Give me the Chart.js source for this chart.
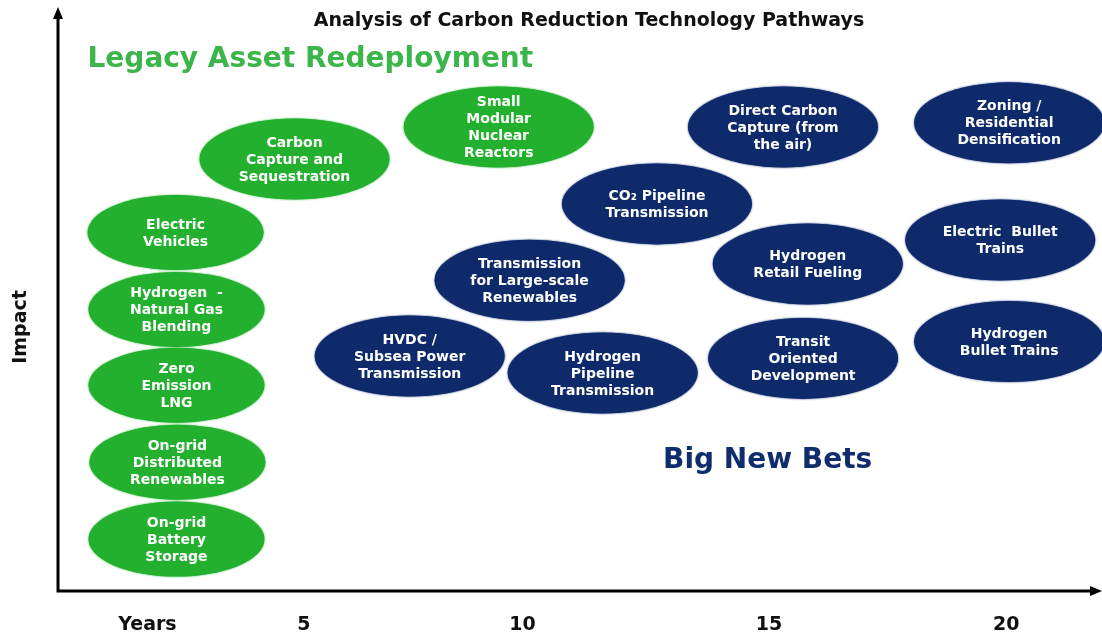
<!DOCTYPE html>
<html>
<head>
<meta charset="utf-8">
<script src="https://cdn.jsdelivr.net/npm/chart.js@4.4.1/dist/chart.umd.min.js"></script>
<style>
  html, body { margin: 0; padding: 0; background: #ffffff; }
  #wrap { width: 1102px; height: 638px; }
</style>
</head>
<body>
<div id="wrap"><canvas id="c" width="1102" height="638"></canvas></div>
<script>
// ---------- DATA ----------
const chartTitle = 'Analysis of Carbon Reduction Technology Pathways';
const yAxisTitle = 'Impact';

const xTickValues = [1.66, 5, 9.67, 14.93, 20];
const xTickLabels = ['Years', '5', '10', '15', '20'];

// Legacy Asset Redeployment (green)
const legacyLabels = [
  'Carbon\nCapture and\nSequestration',
  'Small\nModular\nNuclear\nReactors',
  'Electric\nVehicles',
  'Hydrogen  -\nNatural Gas\nBlending',
  'Zero\nEmission\nLNG',
  'On-grid\nDistributed\nRenewables',
  'On-grid\nBattery\nStorage'
];
const legacyYears  = [4.80, 9.16, 2.26, 2.28, 2.28, 2.30, 2.28];
const legacyImpact = [74.1, 79.6, 61.5, 48.3, 35.3, 22.1, 8.9];

// Big New Bets (navy)
const betsLabels = [
  'Direct Carbon\nCapture (from\nthe air)',
  'Zoning /\nResidential\nDensification',
  'CO\u2082 Pipeline\nTransmission',
  'Electric  Bullet\nTrains',
  'Transmission\nfor Large-scale\nRenewables',
  'Hydrogen\nRetail Fueling',
  'HVDC /\nSubsea Power\nTransmission',
  'Hydrogen\nPipeline\nTransmission',
  'Transit\nOriented\nDevelopment',
  'Hydrogen\nBullet Trains'
];
const betsYears  = [15.23, 20.06, 12.54, 19.87, 9.82, 15.76, 7.26, 11.38, 15.66, 20.06];
const betsImpact = [79.6, 80.3, 66.4, 60.2, 53.3, 56.1, 40.3, 37.4, 39.9, 42.8];

// Group captions (anchored at left edge of text, in data units)
const groupCaptions = ['Legacy Asset Redeployment', 'Big New Bets'];
const groupCaptionYears = [0.38, 12.67];
const groupCaptionImpact = [91.1, 22.4];

// ---------- STYLE ----------
const GREEN = '#23b02e';
const GREEN_TEXT = '#3cb54a';
const NAVY = '#0e2a6b';
const NAVY_TEXT = '#0f2c6c';
const FONT = '"DejaVu Sans", Verdana, sans-serif';

function toPoints(xs, ys) { return xs.map((x, i) => ({ x: x, y: ys[i] })); }

const ellipsePlugin = {
  id: 'ellipses',
  afterDatasetsDraw(chart) {
    const ctx = chart.ctx;
    chart.data.datasets.forEach((ds, di) => {
      const meta = chart.getDatasetMeta(di);
      meta.data.forEach((pt, i) => {
        const p = pt.getProps(['x', 'y'], true);
        const compact = ds.data[i].x < 3;
        const rx = compact ? 88 : 95;
        const ry = compact ? 37.5 : 40.5;
        ctx.save();
        ctx.beginPath();
        ctx.ellipse(p.x, p.y, rx, ry, 0, 0, Math.PI * 2);
        ctx.fillStyle = ds.backgroundColor;
        ctx.shadowColor = ds.backgroundColor;
        ctx.shadowBlur = 2;
        ctx.fill();
        ctx.shadowBlur = 0;
        const lines = ds.labels[i].split('\n');
        ctx.fillStyle = '#ffffff';
        ctx.font = 'bold 14px ' + FONT;
        ctx.textAlign = 'center';
        ctx.textBaseline = 'middle';
        const lh = 17;
        lines.forEach((ln, k) => {
          ctx.fillText(ln, p.x, p.y + (k - (lines.length - 1) / 2) * lh + 1);
        });
        ctx.restore();
      });
    });
  }
};

const decorPlugin = {
  id: 'decor',
  beforeDatasetsDraw(chart) {
    const ctx = chart.ctx;
    const a = chart.chartArea;
    const xs = chart.scales.x, ys = chart.scales.y;
    ctx.save();
    // axes
    ctx.strokeStyle = '#000';
    ctx.fillStyle = '#000';
    ctx.lineWidth = 3;
    ctx.beginPath();
    ctx.moveTo(a.left, a.bottom);
    ctx.lineTo(a.left, a.top + 8);
    ctx.moveTo(a.left - 1.5, a.bottom);
    ctx.lineTo(a.right - 8, a.bottom);
    ctx.stroke();
    // arrow heads
    ctx.beginPath();
    ctx.moveTo(a.left, a.top - 1);
    ctx.lineTo(a.left - 5, a.top + 11);
    ctx.lineTo(a.left + 5, a.top + 11);
    ctx.closePath();
    ctx.fill();
    ctx.beginPath();
    ctx.moveTo(a.right + 2, a.bottom);
    ctx.lineTo(a.right - 10, a.bottom - 5);
    ctx.lineTo(a.right - 10, a.bottom + 5);
    ctx.closePath();
    ctx.fill();

    // title
    ctx.font = 'bold 19px ' + FONT;
    ctx.fillStyle = '#111';
    ctx.textAlign = 'center';
    ctx.textBaseline = 'middle';
    ctx.fillText(chartTitle, (a.left + a.right) / 2 + 10, 21);

    // y-axis title
    ctx.save();
    ctx.translate(21, 327);
    ctx.rotate(-Math.PI / 2);
    ctx.font = 'bold 19px ' + FONT;
    ctx.fillText(yAxisTitle, 0, 0);
    ctx.restore();

    // group captions
    ctx.font = 'bold 28px ' + FONT;
    ctx.textAlign = 'left';
    groupCaptions.forEach((t, i) => {
      ctx.fillStyle = i === 0 ? GREEN_TEXT : NAVY_TEXT;
      ctx.fillText(t, xs.getPixelForValue(groupCaptionYears[i]), ys.getPixelForValue(groupCaptionImpact[i]));
    });
    ctx.restore();
  }
};

new Chart(document.getElementById('c'), {
  type: 'scatter',
  data: {
    datasets: [
      { label: 'Legacy Asset Redeployment', data: toPoints(legacyYears, legacyImpact), labels: legacyLabels,
        backgroundColor: GREEN, pointRadius: 0, pointHoverRadius: 0 },
      { label: 'Big New Bets', data: toPoints(betsYears, betsImpact), labels: betsLabels,
        backgroundColor: NAVY, pointRadius: 0, pointHoverRadius: 0 }
    ]
  },
  options: {
    responsive: false,
    animation: false,
    events: [],
    layout: { padding: { left: 58, right: 2, top: 8, bottom: 0 } },
    plugins: { legend: { display: false }, title: { display: false }, tooltip: { enabled: false } },
    scales: {
      x: {
        type: 'linear', min: -0.25, max: 22,
        grid: { display: false }, border: { display: false },
        afterBuildTicks: (scale) => { scale.ticks = xTickValues.map(v => ({ value: v })); },
        afterFit: (scale) => { scale.height = 47; },
        ticks: {
          autoSkip: false, maxRotation: 0, padding: 15,
          color: '#111', font: { family: FONT, size: 19, weight: 'bold' },
          callback: (v, i) => xTickLabels[i]
        }
      },
      y: {
        type: 'linear', min: 0, max: 100, display: false
      }
    }
  },
  plugins: [decorPlugin, ellipsePlugin]
});
</script>
</body>
</html>
